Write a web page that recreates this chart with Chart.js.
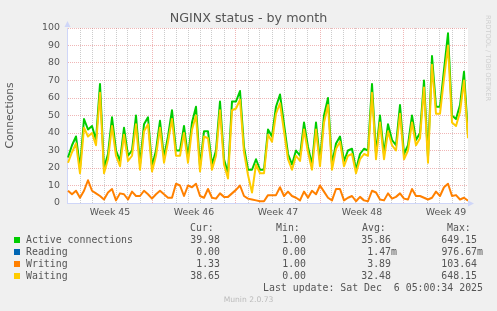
<!DOCTYPE html>
<html>
<head>
<meta charset="utf-8">
<title>NGINX status - by month</title>
<script src="https://cdn.jsdelivr.net/npm/chart.js@4.4.1/dist/chart.umd.min.js"></script>
<style>
  html, body { margin: 0; padding: 0; background: #f0f0f0; }
  #graph { position: relative; width: 497px; height: 311px; overflow: hidden; }
  #graph canvas { position: absolute; left: 0; top: 0; }
  .txt { position: absolute; white-space: pre; line-height: 12px; height: 12px; }
  .mono { font-family: 'DejaVu Sans Mono', monospace; font-size: 9.9px; color: #555; }
  .title { left: 0; width: 497px; top: 11.7px; text-align: center; font-family: 'DejaVu Sans', sans-serif; font-size: 12.7px; color: #555; }
  .munin { left: 0; width: 497px; top: 294px; text-align: center; font-family: 'DejaVu Sans', sans-serif; font-size: 7.6px; color: #bbb; }
  .rrd { position: absolute; left: 484px; top: 15px; writing-mode: vertical-rl; font-family: 'DejaVu Sans', sans-serif; font-size: 6.7px; line-height: 7px; color: #cfcfcf; white-space: pre; }
  .box { position: absolute; left: 14px; width: 6px; height: 6px; }
</style>
</head>
<body>
<div id="graph">
  <canvas id="c" width="497" height="311"></canvas>
  <div class="txt title">NGINX status - by month</div>
  <div class="rrd">RRDTOOL / TOBI OETIKER</div>
  <div class="txt munin">Munin 2.0.73</div>
</div>
<script>
// one sample every 8 hours, day 0 = monday of week 45
const sampleDays = 1 / 3;
const weekLabels = ['Week 45', 'Week 46', 'Week 47', 'Week 48', 'Week 49'];

const activeValues = [
  26, 33, 38, 20, 48, 42, 44, 36, 68, 20,
  28, 49, 30, 24, 43, 27, 30, 50, 22, 45,
  49, 21, 30, 47, 26, 38, 53, 30, 30, 44,
  26, 46, 55, 21, 41, 41, 22, 30, 58, 25,
  17, 58, 58, 64, 32, 19, 19, 25, 19, 19,
  42, 38, 55, 62, 45, 28, 22, 30, 27, 46,
  32, 22, 46, 24, 50, 60, 22, 34, 38, 24,
  30, 31, 19, 28, 31, 30, 68, 28, 50, 28,
  45, 36, 33, 56, 28, 33, 50, 36, 40, 70,
  26, 84, 55, 55, 76, 97, 50, 48, 56, 75,
  39
];
const writingValues = [
  7, 5, 7, 3, 7, 13, 7, 5.5, 4, 2,
  6, 8, 1.5, 5.5, 5, 2, 6.5, 4, 4, 7,
  5, 2.5, 5, 7, 5, 3, 3, 11, 10, 4,
  10, 9, 11, 4, 3, 8, 3, 2.5, 5.5, 3.5,
  3.5, 5.5, 7.5, 10, 4, 2.5, 2, 1.5, 1, 1,
  4.5, 4.5, 4.5, 9, 4, 6.5, 4, 3, 1.5, 6.5,
  3, 7, 5, 10, 6.5, 3, 1.5, 8, 8, 1.5,
  3, 4, 1, 3.5, 1.5, 1, 7, 6, 2, 1.5,
  5.5, 2.5, 3.5, 5.5, 2.5, 2, 8, 4, 4, 3,
  2, 3, 6.5, 4, 9, 11, 4, 4.5, 2, 3,
  1.3
];
const waitingValues = [
  23, 29, 34, 17, 43, 38, 40, 33, 63, 17,
  25, 44, 27, 21, 39, 24, 27, 45, 19, 41,
  45, 18, 27, 43, 23, 35, 48, 27, 27, 40,
  23, 42, 50, 18, 38, 37, 19, 27, 53, 22,
  14, 53, 54, 59, 29, 16, 6, 22, 17, 17,
  39, 35, 51, 57, 41, 25, 19, 27, 24, 42,
  29, 19, 42, 21, 46, 56, 19, 31, 35, 21,
  27, 28, 17, 25, 28, 27, 63, 25, 46, 25,
  41, 33, 30, 51, 25, 30, 46, 33, 37, 66,
  23, 79, 51, 51, 71, 90, 46, 44, 52, 70,
  37
];

// legend table
const seriesNames = ['Active connections', 'Reading', 'Writing', 'Waiting'];
const seriesColors = ['#00CC00', '#0066B3', '#FF8000', '#FFCC00'];
const curValues = ['39.98', '0.00', '1.33', '38.65'];
const minValues = ['1.00', '0.00', '1.00', '0.00'];
const avgValues = ['35.86', '1.47m', '3.89', '32.48'];
const maxValues = ['649.15', '976.67m', '103.64', '648.15'];
const lastUpdate = 'Last update: Sat Dec  6 05:00:34 2025';

const toPoints = vals => vals.map((v, i) => ({ x: i * sampleDays, y: v }));

const halfDayTicks = [];
for (let d = 0.5; d <= 33; d += 0.5) halfDayTicks.push(d);

const GRID = 'rgba(170,170,170,0.6)';
const MGRID = 'rgba(225,110,110,0.5)';
const AXIS = '#CFD6F8';
const tickFont = { family: 'DejaVu Sans', size: 9.4 };

const muninFrame = {
  id: 'muninFrame',
  beforeDraw(chart) {
    const { ctx, chartArea: a } = chart;
    ctx.save();
    ctx.fillStyle = '#ffffff';
    ctx.fillRect(a.left, a.top, a.right - a.left, a.bottom - a.top);
    ctx.restore();
  },
  afterDraw(chart) {
    const { ctx, chartArea: a } = chart;
    ctx.save();
    ctx.fillStyle = AXIS;
    ctx.beginPath();
    ctx.moveTo(a.left + 0.5, a.top - 7);
    ctx.lineTo(a.left - 2.5, a.top - 1);
    ctx.lineTo(a.left + 3.5, a.top - 1);
    ctx.closePath();
    ctx.fill();
    ctx.beginPath();
    ctx.moveTo(a.right + 6, a.bottom + 0.5);
    ctx.lineTo(a.right, a.bottom - 2.5);
    ctx.lineTo(a.right, a.bottom + 3.5);
    ctx.closePath();
    ctx.fill();
    ctx.restore();
  }
};

new Chart(document.getElementById('c'), {
  type: 'line',
  data: {
    datasets: [
      { label: seriesNames[0], data: toPoints(activeValues), borderColor: seriesColors[0], order: 3 },
      { label: seriesNames[2], data: toPoints(writingValues), borderColor: seriesColors[2], order: 2 },
      { label: seriesNames[3], data: toPoints(waitingValues), borderColor: seriesColors[3], order: 1 }
    ]
  },
  options: {
    responsive: false,
    animation: false,
    events: [],
    layout: { padding: { top: 28, right: 29, bottom: 0, left: 0 } },
    elements: {
      point: { radius: 0 },
      line: { borderWidth: 2, tension: 0, borderJoinStyle: 'round', fill: false }
    },
    plugins: { legend: { display: false }, tooltip: { enabled: false }, title: { display: false } },
    scales: {
      x: {
        type: 'linear',
        min: -1 / 12,
        max: 100 / 3,
        afterFit: s => { s.height = 108; },
        afterBuildTicks: s => { s.ticks = halfDayTicks.map(v => ({ value: v })); },
        grid: {
          drawTicks: false,
          color: c => {
            const v = c.tick.value;
            if (!Number.isInteger(v)) return 'rgba(0,0,0,0)';
            return v % 7 === 0 ? MGRID : GRID;
          }
        },
        border: { display: true, color: AXIS, dash: [1, 1] },
        ticks: {
          autoSkip: false,
          maxRotation: 0,
          padding: 4,
          font: tickFont,
          color: '#555',
          callback: v => {
            const w = (v - 3.5) / 7;
            return Number.isInteger(w) ? weekLabels[w] : '';
          }
        }
      },
      y: {
        min: 0,
        max: 100,
        afterFit: s => { s.width = 67; },
        grid: {
          drawTicks: false,
          color: c => {
            const v = c.tick.value;
            if (v === 0) return 'rgba(0,0,0,0)';
            return v % 10 === 0 ? MGRID : GRID;
          }
        },
        border: { display: true, color: AXIS, dash: [1, 1] },
        ticks: {
          stepSize: 5,
          padding: 7,
          font: tickFont,
          color: '#555',
          callback: v => (v % 10 === 0 ? String(v) : '')
        },
        title: {
          display: true,
          text: 'Connections',
          color: '#555',
          font: { family: 'DejaVu Sans', size: 10.7 },
          padding: { top: 4, bottom: 0 }
        }
      }
    }
  },
  plugins: [muninFrame]
});

// legend below the graph
const graph = document.getElementById('graph');
function addText(text, x, yc, right) {
  const el = document.createElement('div');
  el.className = 'txt mono';
  el.textContent = text;
  el.style.top = (yc - 6) + 'px';
  if (right) el.style.right = (497 - x) + 'px';
  else el.style.left = x + 'px';
  graph.appendChild(el);
}
const headerY = 228.3;
addText('Cur:', 190, headerY);
addText('Min:', 276, headerY);
addText('Avg:', 362, headerY);
addText('Max:', 447, headerY);
const colRight = [220, 306, 391, 477];
seriesNames.forEach((name, i) => {
  const yc = 239.8 + 12 * i;
  const box = document.createElement('div');
  box.className = 'box';
  box.style.top = (yc - 2.5) + 'px';
  box.style.background = seriesColors[i];
  graph.appendChild(box);
  addText(name, 26, yc);
  [curValues[i], minValues[i], avgValues[i], maxValues[i]].forEach((val, j) => {
    const shift = val.endsWith('m') ? 6 : 0;
    addText(val, colRight[j] + shift, yc, true);
  });
});
addText(lastUpdate, 483, 287.8, true);
</script>
</body>
</html>
